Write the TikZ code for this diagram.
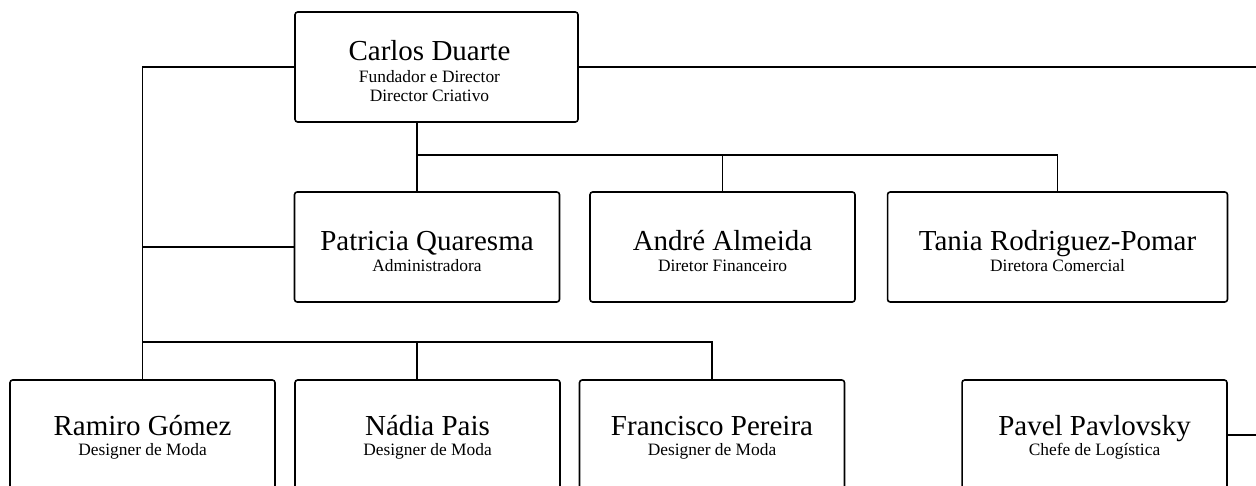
\documentclass[tikz,border=0pt]{standalone}
\usepackage{fontspec}
\setmainfont{Liberation Serif}
\usepackage{tikz}

\newcommand{\pname}[1]{{\fontsize{16.5}{18}\selectfont\rule{0pt}{16pt}#1}}

\tikzset{
  person/.style={draw, line width=0.9pt, rounded corners=1.5pt, align=center,
    inner sep=0pt, minimum width=5.3cm, minimum height=2.2cm,
    font=\fontsize{9.9}{11}\selectfont},
  lowperson/.style={person, text depth=4.2pt},
  link/.style={line width=0.9pt}
}

\begin{document}
\begin{tikzpicture}[x=0.02cm, y=-0.02cm]
            \useasboundingbox (0,0) rectangle (1256,486);
            \node[person, minimum width=5.66cm] (carlos) at (436.5,67)
                {\pname{Carlos Duarte}\kern8pt\\[1.4pt]Fundador e Director\kern8pt\\Director Criativo\kern8pt};
            \node[person] (patricia) at (427,247) {\pname{Patricia Quaresma}\\[0.5pt]Administradora};
            \node[person] (andre) at (722.5,247) {\pname{André Almeida}\\[0.5pt]Diretor Financeiro};
            \node[person, minimum width=6.8cm] (tania) at (1057.5,247) {\pname{Tania Rodriguez-Pomar}\\[0.5pt]Diretora Comercial};
            \node[lowperson] (ramiro) at (142.5,435) {\pname{Ramiro Gómez}\\[0.5pt]Designer de Moda};
            \node[lowperson] (nadia) at (427.5,435) {\pname{Nádia Pais}\\[0.5pt]Designer de Moda};
            \node[lowperson] (francisco) at (712,435) {\pname{Francisco Pereira}\\[0.5pt]Designer de Moda};
            \node[lowperson] (pavel) at (1094.5,435) {\pname{Pavel Pavlovsky}\\[0.5pt]Chefe de Logística};
            \coordinate (topbus) at (417,155);
            \coordinate (lowbus) at (143,342);
            \coordinate (redge) at (1256,67);
            \draw[link] (carlos.west) -| (ramiro.north);
            \draw[link] (ramiro.north |- patricia.west) -- (patricia.west);
            \draw[link] (lowbus) -| (francisco.north);
            \draw[link] (topbus |- lowbus) -- (topbus |- nadia.north);
            \draw[link] (topbus |- carlos.south) -- (topbus |- patricia.north);
            \draw[link] (topbus) -| (tania.north);
            \draw[link] (andre.north |- topbus) -- (andre.north);
            \draw[link] (carlos.east) -- (redge);
            \draw[link] (pavel.east) -- (pavel.east -| redge);
        \end{tikzpicture}
\end{document}
